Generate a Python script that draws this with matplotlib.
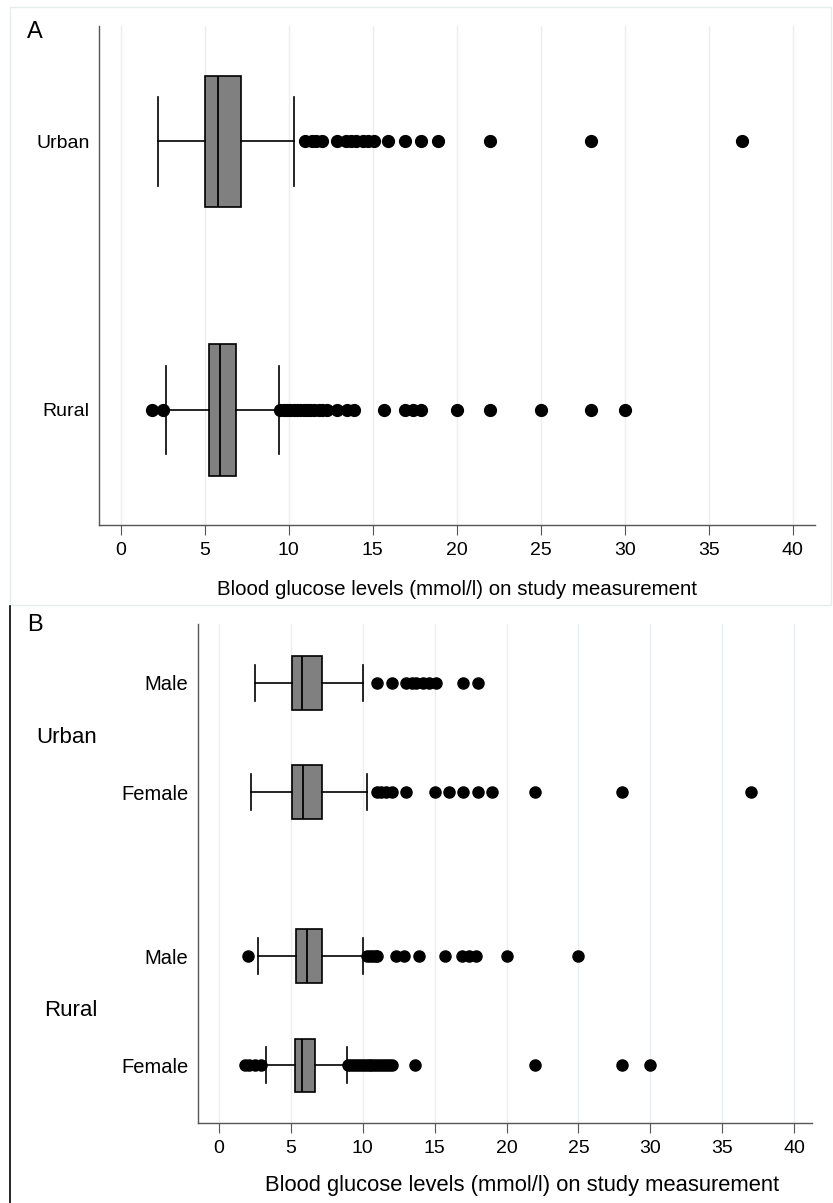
import matplotlib
matplotlib.use("Agg")
import matplotlib.pyplot as plt
from matplotlib.patches import Rectangle
from matplotlib.lines import Line2D
from matplotlib.transforms import blended_transform_factory

plt.rcParams['font.family'] = ['Liberation Sans', 'DejaVu Sans']

# ── Panel A: location only ─────────────────────────────
a_groups = ['Urban', 'Rural']
a_q1 = [5.02, 5.25]
a_med = [5.8, 5.9]
a_q3 = [7.18, 6.88]
a_lo = [2.2, 2.68]
a_hi = [10.3, 9.4]
a_urban_out = [11.0, 11.4, 11.6, 12.0, 12.9, 13.4, 13.7, 14.0, 14.4, 14.7, 15.1,
               15.9, 16.9, 17.9, 18.9, 22.0, 28.0, 37.0]
a_rural_out = [1.85, 2.55, 9.5, 9.7, 9.9, 10.1, 10.3, 10.5, 10.7, 10.9, 11.1, 11.3,
               11.5, 11.8, 12.0, 12.3, 12.9, 13.5, 13.9, 15.7, 16.9, 17.4, 17.9,
               20.0, 22.0, 25.0, 28.0, 30.0]

# ── Panel B: location x sex ────────────────────────────
b_groups = ['Urban', 'Rural']
b_sex = ['Male', 'Female', 'Male', 'Female']
b_q1 = [5.05, 5.05, 5.35, 5.26]
b_med = [5.75, 5.82, 6.1, 5.8]
b_q3 = [7.16, 7.16, 7.16, 6.68]
b_lo = [2.53, 2.2, 2.73, 3.25]
b_hi = [10.0, 10.3, 10.0, 8.92]
b_urban_m_out = [11.0, 12.0, 13.0, 13.4, 13.7, 14.2, 14.6, 15.1, 17.0, 18.0]
b_urban_f_out = [11.0, 11.3, 11.6, 12.0, 13.0, 15.0, 16.0, 17.0, 18.0, 19.0,
                 22.0, 28.0, 37.0]
b_rural_m_out = [2.0, 10.3, 10.5, 10.7, 10.9, 11.0, 12.3, 12.9, 13.9, 15.7,
                 16.9, 17.4, 17.9, 20.0, 25.0]
b_rural_f_out = [1.8, 2.1, 2.5, 2.9, 9.0, 9.2, 9.4, 9.6, 9.8, 10.0, 10.2, 10.4,
                 10.6, 10.8, 11.0, 11.2, 11.4, 11.6, 11.8, 12.0, 13.6, 22.0,
                 28.0, 30.0]

xticks = [0, 5, 10, 15, 20, 25, 30, 35, 40]
xlab = 'Blood glucose levels (mmol/l) on study measurement'

W, H = 833, 1203
fig = plt.figure(figsize=(W / 100, H / 100), dpi=100)

# panel frames
fig.add_artist(Rectangle((10 / W, 1 - 605 / H), 821 / W, 598 / H, transform=fig.transFigure,
                         fill=False, edgecolor='#e6ecee', lw=1))
fig.add_artist(Line2D([9.5 / W, 9.5 / W], [0, 1 - 606 / H], transform=fig.transFigure,
                      color='black', lw=1.2))


def make_stats(labels, q1, med, q3, lo, hi, fliers):
    out = []
    for i in range(len(labels)):
        out.append(dict(label=labels[i], q1=q1[i], med=med[i], q3=q3[i],
                        whislo=lo[i], whishi=hi[i], fliers=fliers[i]))
    return out


def style_axes(ax, xl, fs_tick, fs_lab, labelpad):
    ax.set_xlim(*xl)
    ax.set_xticks(xticks)
    ax.tick_params(axis='x', length=7, width=0.8, color='#555555', labelsize=fs_tick, pad=5)
    ax.tick_params(axis='y', length=0, pad=7)
    ax.grid(axis='x', color='#e8eef1', lw=1)
    ax.set_axisbelow(True)
    for s in ['top', 'right']:
        ax.spines[s].set_visible(False)
    for s in ['left', 'bottom']:
        ax.spines[s].set_color('#555555')
        ax.spines[s].set_linewidth(1.0)
    ax.set_xlabel(xlab, fontsize=fs_lab, labelpad=labelpad)


box_kw = dict(patch_artist=True, orientation='horizontal', widths=0.49, capwidths=0.33,
              boxprops=dict(facecolor='#808080', edgecolor='black', lw=1.2),
              medianprops=dict(color='black', lw=1.3),
              whiskerprops=dict(color='black', lw=1.2),
              capprops=dict(color='black', lw=1.2))

# ── A ──
axA = fig.add_axes([99.3 / W, 1 - 525.3 / H, (815 - 99.3) / W, (525.3 - 26) / H])
statsA = make_stats(a_groups, a_q1, a_med, a_q3, a_lo, a_hi, [a_urban_out, a_rural_out])
axA.bxp(statsA, positions=[0, 1],
        flierprops=dict(marker='o', markerfacecolor='black', markeredgecolor='black',
                        markersize=8.5), **box_kw)
axA.set_ylim(1.43, -0.43)
axA.set_yticks([0, 1])
axA.set_yticklabels(a_groups, fontsize=14)
style_axes(axA, (-1.27, 41.33), 14, 14.8, 15)
fig.text(27 / W, 1 - 31.5 / H, 'A', fontsize=17, va='center', ha='left')

# ── B ──
axB = fig.add_axes([198.3 / W, 1 - 1123.3 / H, (812 - 198.3) / W, (1123.3 - 624) / H])
posB = [0, 1, 2.5, 3.5]
statsB = make_stats(b_sex, b_q1, b_med, b_q3, b_lo, b_hi,
                    [b_urban_m_out, b_urban_f_out, b_rural_m_out, b_rural_f_out])
axB.bxp(statsB, positions=posB,
        flierprops=dict(marker='o', markerfacecolor='black', markeredgecolor='black',
                        markersize=8), **box_kw)
axB.set_ylim(4.03, -0.54)
axB.set_yticks(posB)
axB.set_yticklabels(b_sex, fontsize=14.5)
style_axes(axB, (-1.44, 41.24), 14, 15.8, 13)
axB.xaxis.label.set_x(0.527)
tr = blended_transform_factory(fig.transFigure, axB.transData)
axB.text(97.5 / W, 0.5, b_groups[0], transform=tr, fontsize=16, ha='right', va='center')
axB.text(97.5 / W, 3.0, b_groups[1], transform=tr, fontsize=16, ha='right', va='center')
fig.text(27 / W, 1 - 625 / H, 'B', fontsize=17, va='center', ha='left')

fig.savefig('out.png', dpi=100)
